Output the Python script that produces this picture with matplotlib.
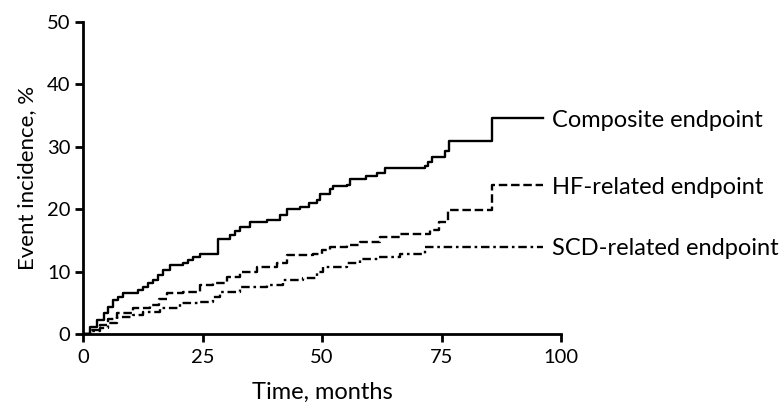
import matplotlib
matplotlib.use("Agg")
import matplotlib.pyplot as plt

# Composite endpoint (months, %)
comp_t = [0, 1.5, 2.9, 4.3, 5.3, 6.3, 7.3, 8.4, 10.5, 11.5, 12.6, 13.6, 14.7, 15.7, 16.8, 18.2,
          21.0, 22.0, 23.0, 24.5, 26.6, 28.3, 30.8, 31.8, 32.8, 34.9, 38.5, 41.2, 42.6, 45.4,
          47.2, 48.9, 49.6, 51.7, 52.3, 55.2, 55.9, 59.3, 61.5, 63.2, 71.5, 72.2, 73.0, 75.7,
          76.6, 85.6, 96.2]
comp_v = [0, 1.2, 2.2, 3.3, 4.3, 5.4, 6.0, 6.5, 6.6, 7.1, 7.6, 8.2, 8.7, 9.5, 10.2, 11.1,
          11.3, 11.9, 12.4, 12.8, 12.9, 15.3, 15.8, 16.5, 17.1, 18.0, 18.3, 19.0, 20.1, 20.4,
          21.0, 21.5, 22.5, 23.3, 23.7, 23.8, 24.9, 25.4, 25.8, 26.6, 27.0, 27.6, 28.4, 29.4,
          30.9, 34.6, 34.6]

# HF-related endpoint
hf_t = [0, 1.5, 3.6, 5.3, 7.1, 10.5, 14.0, 15.8, 17.6, 21.0, 24.5, 27.2, 30.1, 32.8, 36.4,
        40.6, 42.6, 48.1, 50.0, 51.7, 55.2, 57.9, 62.1, 66.3, 72.5, 74.5, 76.4, 85.6, 96.2]
hf_v = [0, 0.7, 1.4, 2.4, 3.3, 4.1, 4.6, 5.6, 6.5, 6.8, 7.8, 8.1, 9.2, 10.0, 10.8,
        11.3, 12.6, 12.9, 13.5, 14.0, 14.2, 14.8, 15.6, 16.0, 16.6, 18.0, 19.8, 23.8, 23.8]

# SCD-related endpoint
scd_t = [0, 1.8, 3.6, 5.3, 7.1, 10.5, 12.6, 16.1, 20.3, 24.5, 27.2, 28.7, 32.8, 38.5, 41.8,
         46.0, 48.9, 50.2, 55.2, 57.9, 62.0, 66.3, 71.5, 96.2]
scd_v = [0, 0.5, 0.9, 1.8, 2.7, 3.0, 3.5, 4.1, 4.9, 5.2, 5.9, 6.7, 7.6, 7.8, 8.7,
         8.9, 10.0, 10.7, 11.3, 12.1, 12.4, 12.8, 14.0, 14.0]

labels = ["Composite endpoint", "HF-related endpoint", "SCD-related endpoint"]
x_ticks = [0, 25, 50, 75, 100]
y_ticks = [0, 10, 20, 30, 40, 50]

plt.rcParams['font.family'] = ['Lato', 'DejaVu Sans']

fig = plt.figure(figsize=(7.84, 4.12), dpi=100)
ax = fig.add_axes([0.1059, 0.1893, 0.6097, 0.7573])

lw = 1.7
l1, = ax.step(comp_t, comp_v, where='post', color='black', lw=lw)
l2, = ax.step(hf_t, hf_v, where='post', color='black', lw=lw)
l2.set_dashes((3.6, 1.6))
l3, = ax.step(scd_t, scd_v, where='post', color='black', lw=lw)
l3.set_dashes((3.6, 1.6, 1.1, 1.6))

for t, v, lab in [(comp_t, comp_v, labels[0]), (hf_t, hf_v, labels[1]), (scd_t, scd_v, labels[2])]:
    ax.annotate(lab, xy=(t[-1], v[-1]), xytext=(6.5, -1.5), textcoords='offset points',
                va='center', ha='left', fontsize=17, annotation_clip=False)

ax.set_xlim(0, 100)
ax.set_ylim(0, 50)
ax.set_xticks(x_ticks)
ax.set_yticks(y_ticks)
ax.tick_params(direction='out', length=6, width=2, labelsize=14.5)
ax.tick_params(axis='x', pad=5)
ax.tick_params(axis='y', pad=3)
for s in ['top', 'right']:
    ax.spines[s].set_visible(False)
for s in ['left', 'bottom']:
    ax.spines[s].set_linewidth(2)
ax.set_xlabel("Time, months", fontsize=17, labelpad=11)
ax.set_ylabel("Event incidence, %", fontsize=16, labelpad=7)

fig.savefig("out.png", dpi=100)
